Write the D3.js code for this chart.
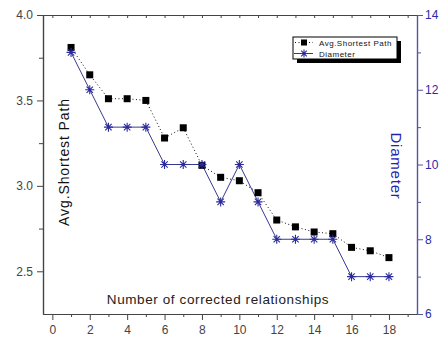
<!DOCTYPE html>
<html>
<head>
<meta charset="utf-8">
<script src="https://cdn.jsdelivr.net/npm/d3@7"></script>
<style>
  html, body { margin: 0; padding: 0; background: #fff; }
  svg { display: block; font-family: Arial, "Liberation Sans", sans-serif; }
</style>
</head>
<body>
<svg id="chart" width="442" height="339"></svg>
<script>
// ---- data ----
const relationships = [1, 2, 3, 4, 5, 6, 7, 8, 9, 10, 11, 12, 13, 14, 15, 16, 17, 18];
const avgShortestPath = [3.81, 3.65, 3.51, 3.51, 3.50, 3.28, 3.34, 3.12, 3.05, 3.03, 2.96, 2.80, 2.76, 2.73, 2.72, 2.64, 2.62, 2.58];
const diameter = [13, 12, 11, 11, 11, 10, 10, 10, 9, 10, 9, 8, 8, 8, 8, 7, 7, 7];
const xMajorTicks = [0, 2, 4, 6, 8, 10, 12, 14, 16, 18];
const xMinorTicks = [1, 3, 5, 7, 9, 11, 13, 15, 17, 19];
const yLeftTicks = [2.5, 3.0, 3.5, 4.0];
const yLeftMinor = [2.75, 3.25, 3.75];
const yRightTicks = [6, 8, 10, 12, 14];
const yRightMinor = [7, 9, 11, 13];
const seriesNames = ["Avg.Shortest Path", "Diameter"];
const xTitle = "Number of corrected relationships";
const yLeftTitle = "Avg.Shortest Path";
const yRightTitle = "Diameter";

// ---- layout ----
const L = 43, R = 417, T = 15, B = 314;
const blue = "#2a2a9c";
const axisGray = "#444";
const svg = d3.select("#chart");
svg.append("rect").attr("width", 442).attr("height", 339).attr("fill", "#fff");

const x = d3.scaleLinear().domain([-0.5, 19.5]).range([L, R]);
const yL = d3.scaleLinear().domain([2.25, 4.0]).range([B, T]);
const yR = d3.scaleLinear().domain([6, 14]).range([B, T]);

function styleAxis(g, color, labelColor) {
  g.select(".domain").attr("stroke", color).attr("stroke-width", 1.2);
  g.selectAll(".tick line").attr("stroke", color);
  g.selectAll(".tick text").attr("fill", labelColor || color)
    .attr("font-size", 12).attr("font-family", "Arial, 'Liberation Sans', sans-serif");
}

// bottom axis
const gxMin = svg.append("g").attr("transform", `translate(0,${B})`)
  .call(d3.axisBottom(x).tickValues(xMinorTicks).tickSize(3).tickSizeOuter(0).tickFormat(""));
styleAxis(gxMin, axisGray);
const gx = svg.append("g").attr("transform", `translate(0,${B})`)
  .call(d3.axisBottom(x).tickValues(xMajorTicks).tickSize(6).tickSizeOuter(0).tickPadding(5).tickFormat(d3.format("d")));
styleAxis(gx, axisGray, "#444");

// top axis (ticks inward, no labels)
const gtMin = svg.append("g").attr("transform", `translate(0,${T})`)
  .call(d3.axisBottom(x).tickValues(xMinorTicks).tickSize(3).tickSizeOuter(0).tickFormat(""));
styleAxis(gtMin, axisGray);
const gt = svg.append("g").attr("transform", `translate(0,${T})`)
  .call(d3.axisBottom(x).tickValues(xMajorTicks).tickSize(3).tickSizeOuter(0).tickFormat(""));
styleAxis(gt, axisGray);

// left axis
const gyMin = svg.append("g").attr("transform", `translate(${L},0)`)
  .call(d3.axisLeft(yL).tickValues(yLeftMinor).tickSize(4).tickSizeOuter(0).tickFormat(""));
styleAxis(gyMin, axisGray);
const gy = svg.append("g").attr("transform", `translate(${L},0)`)
  .call(d3.axisLeft(yL).tickValues(yLeftTicks).tickSize(6).tickSizeOuter(0).tickPadding(4).tickFormat(d3.format(".1f")));
styleAxis(gy, axisGray, "#444");

// right axis
const gyrMin = svg.append("g").attr("transform", `translate(${R},0)`)
  .call(d3.axisRight(yR).tickValues(yRightMinor).tickSize(4).tickSizeOuter(0).tickFormat(""));
styleAxis(gyrMin, "#55559a");
const gyr = svg.append("g").attr("transform", `translate(${R},0)`)
  .call(d3.axisRight(yR).tickValues(yRightTicks).tickSize(6).tickSizeOuter(0).tickPadding(2).tickFormat(d3.format("d")));
styleAxis(gyr, "#55559a", "#2a2aa8");

// ---- axis titles ----
svg.append("text").attr("x", 218).attr("y", 304).attr("text-anchor", "middle")
  .attr("font-size", 13.5).attr("letter-spacing", 0.6).attr("fill", "#222").text(xTitle);
svg.append("text").attr("transform", `translate(69,162) rotate(-90)`).attr("text-anchor", "middle")
  .attr("font-size", 14).attr("letter-spacing", 0.9).attr("fill", "#111").text(yLeftTitle);
svg.append("text").attr("transform", `translate(391,166) rotate(90)`).attr("text-anchor", "middle")
  .attr("font-size", 15).attr("letter-spacing", 0.8).attr("fill", "#2222b0").text(yRightTitle);

// ---- series ----
const pts = relationships.map((r, i) => ({ r, a: avgShortestPath[i], d: diameter[i] }));

svg.append("path").datum(pts)
  .attr("fill", "none").attr("stroke", "#111").attr("stroke-width", 1)
  .attr("stroke-dasharray", "1,2.5")
  .attr("d", d3.line().x(d => x(d.r)).y(d => yL(d.a)));

svg.append("path").datum(pts)
  .attr("fill", "none").attr("stroke", "#3a3a8c").attr("stroke-width", 1)
  .attr("d", d3.line().x(d => x(d.r)).y(d => yR(d.d)));

const sq = 7;
svg.append("g").selectAll("rect").data(pts).join("rect")
  .attr("x", d => x(d.r) - sq / 2).attr("y", d => yL(d.a) - sq / 2)
  .attr("width", sq).attr("height", sq).attr("fill", "#000");

function starPath(cx, cy, r) {
  const a = r * Math.cos(Math.PI / 4);
  return `M${cx},${cy - r}L${cx},${cy + r}` +
         `M${cx - r},${cy}L${cx + r},${cy}` +
         `M${cx - a},${cy - a}L${cx + a},${cy + a}` +
         `M${cx - a},${cy + a}L${cx + a},${cy - a}`;
}
svg.append("g").selectAll("path").data(pts).join("path")
  .attr("d", d => starPath(x(d.r), yR(d.d), 4.5))
  .attr("stroke", blue).attr("stroke-width", 1.1).attr("fill", "none");

// ---- legend ----
const lg = svg.append("g");
lg.append("rect").attr("x", 297).attr("y", 41).attr("width", 104).attr("height", 22).attr("fill", "#000");
lg.append("rect").attr("x", 293).attr("y", 37).attr("width", 104).attr("height", 22)
  .attr("fill", "#fff").attr("stroke", "#000").attr("stroke-width", 1);
const rows = [42.5, 53.5];
lg.append("line").attr("x1", 295).attr("x2", 313).attr("y1", rows[0]).attr("y2", rows[0])
  .attr("stroke", "#111").attr("stroke-dasharray", "1,2.5");
lg.append("rect").attr("x", 304 - 3).attr("y", rows[0] - 3).attr("width", 6).attr("height", 6).attr("fill", "#000");
lg.append("line").attr("x1", 294).attr("x2", 313).attr("y1", rows[1]).attr("y2", rows[1])
  .attr("stroke", "#3a3a8c");
lg.append("path").attr("d", starPath(304, rows[1], 4)).attr("stroke", blue).attr("stroke-width", 1.1).attr("fill", "none");
lg.selectAll("text.lab").data(seriesNames).join("text").attr("class", "lab")
  .attr("x", 319).attr("y", (d, i) => rows[i] + 3)
  .attr("font-size", 8).attr("letter-spacing", 0.5).attr("fill", "#111").text(d => d);
</script>
</body>
</html>
